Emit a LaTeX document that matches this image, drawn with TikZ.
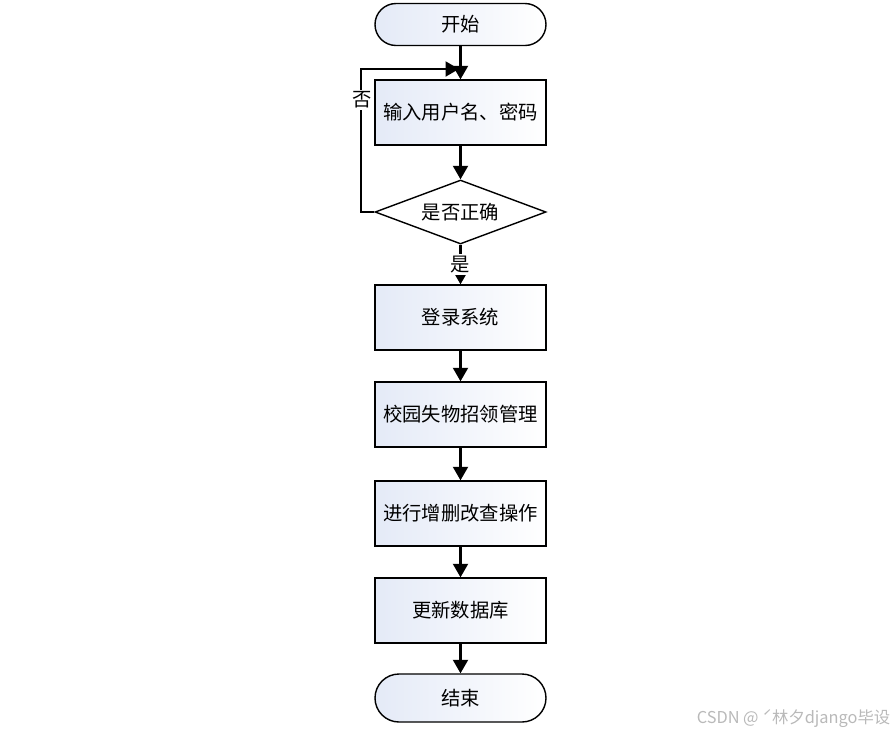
\documentclass[tikz,border=0pt]{standalone}
\usepackage{fontspec}
\usepackage{tikz}
\usetikzlibrary{shapes.geometric,arrows.meta,positioning}
\newfontfamily\cjk{Noto Sans CJK SC}
\definecolor{boxblue}{RGB}{228,234,247}
\definecolor{markgray}{RGB}{185,185,185}

\begin{document}
\begin{tikzpicture}[
  proc/.style={rectangle, draw=black, line width=0.8pt,
    left color=boxblue, right color=white,
    minimum width=3.42cm, minimum height=1.3cm,
    font=\cjk\fontsize{11}{13}\selectfont, align=center},
  term/.style={rectangle, rounded corners=0.42cm, draw=black, line width=0.8pt,
    left color=boxblue, right color=white,
    minimum width=3.42cm, minimum height=0.84cm,
    font=\cjk\fontsize{11}{13}\selectfont},
  decide/.style={diamond, draw=black, line width=0.8pt, fill=white,
    aspect=2.67, inner sep=0pt,
    minimum width=3.42cm, minimum height=1.28cm,
    font=\cjk\fontsize{11}{13}\selectfont},
  lbl/.style={fill=white, inner sep=1pt, font=\cjk\fontsize{11}{13}\selectfont},
  arr/.style={-{Triangle[length=0.27cm, width=0.3cm]}, line width=1.2pt, black}
]
\useasboundingbox (0,0) rectangle (17.92,-14.68);
\node[term] (start) at (9.21,-0.49)  {开始};
\node[proc] (inp)   at (9.21,-2.25)  {输入用户名、密码};
\node[decide] (chk) at (9.21,-4.24)  {是否正确};
\node[proc] (login) at (9.21,-6.35)  {登录系统};
\node[proc] (mgr)   at (9.21,-8.29)  {校园失物招领管理};
\node[proc] (crud)  at (9.21,-10.27) {进行增删改查操作};
\node[proc] (upd)   at (9.21,-12.21) {更新数据库};
\node[term, minimum height=0.96cm, rounded corners=0.48cm] (stop) at (9.21,-13.96) {结束};
\coordinate (join) at (9.18,-1.38);
\draw[arr] (start.south) -- (inp.north);
\draw[arr] (inp.south) -- (chk.north);
\draw[arr] (chk.west) -- ++(-0.26,0) |- (join);
\node[lbl] (no) at (7.24,-2.0) {否};
\draw[arr] (chk.south) -- node[lbl] (yes) {是} (login.north);
\draw[arr] (login) -- (mgr); \draw[arr] (mgr) -- (crud);
\draw[arr] (crud) -- (upd);  \draw[arr] (upd) -- (stop);
\node[font=\cjk\fontsize{9.3}{11}\selectfont, text=markgray] (mark) at (15.87,-14.37) {CSDN @ ˊ林夕django毕设};
\end{tikzpicture}
\end{document}
